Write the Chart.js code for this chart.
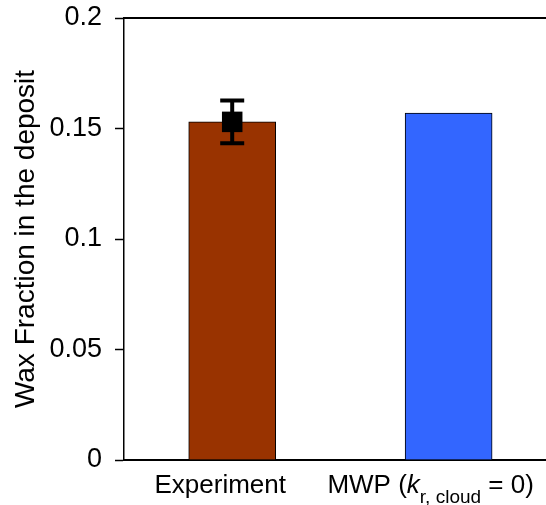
<!DOCTYPE html>
<html>
<head>
<meta charset="utf-8">
<script src="https://cdn.jsdelivr.net/npm/chart.js@4"></script>
<style>
  html, body { margin: 0; padding: 0; background: #fff; overflow: hidden; }
  #wrap { width: 546px; height: 505px; position: relative; }
</style>
</head>
<body>
<div id="wrap"><canvas id="chart"></canvas></div>
<script>
// bar data
const categories = ['Experiment', 'MWP (k r, cloud = 0)'];
const categoryPos = [1, 2];
const waxFraction = [0.153, 0.157];
const barColors = ['#993300', '#3366ff'];

// measured point with its error
const expMean = [0.153];
const expError = [0.0097];

const yTickValues = [0, 0.05, 0.1, 0.15, 0.2];
const yTickLabels = ['0', '0.05', '0.1', '0.15', '0.2'];

// label pieces, so the k and subscript can be styled
const labelParts = [
  [{ t: 'Experiment' }],
  [{ t: 'MWP (' }, { t: 'k', italic: true }, { t: 'r, cloud', sub: true }, { t: ' = 0)' }]
];
const labelShift = [-12, -18];

const FONT = '"Liberation Sans", Arial, Helvetica, sans-serif';

const errorBars = {
  id: 'errorBars',
  afterDatasetsDraw(chart) {
    const ctx = chart.ctx;
    const xs = chart.scales.x, ys = chart.scales.y;
    ctx.save();
    ctx.strokeStyle = '#000';
    ctx.lineWidth = 4;
    ctx.lineCap = 'butt';
    expMean.forEach((m, i) => {
      const px = xs.getPixelForValue(categoryPos[i]);
      const top = ys.getPixelForValue(m + expError[i]);
      const bot = ys.getPixelForValue(m - expError[i]);
      ctx.beginPath();
      ctx.moveTo(px, top); ctx.lineTo(px, bot);
      ctx.moveTo(px - 12, top); ctx.lineTo(px + 12, top);
      ctx.moveTo(px - 12, bot); ctx.lineTo(px + 12, bot);
      ctx.stroke();
    });
    ctx.restore();
  }
};

const frameAndLabels = {
  id: 'frameAndLabels',
  afterDraw(chart) {
    const ctx = chart.ctx;
    const area = chart.chartArea;
    const xs = chart.scales.x;
    ctx.save();
    // top frame line
    ctx.strokeStyle = '#000';
    ctx.lineWidth = 2;
    ctx.beginPath();
    ctx.moveTo(area.left, area.top);
    ctx.lineTo(chart.width, area.top);
    ctx.stroke();

    // category labels
    ctx.fillStyle = '#000';
    ctx.textBaseline = 'alphabetic';
    ctx.textAlign = 'left';
    const base = 493;
    labelParts.forEach((parts, i) => {
      const fontOf = p => p.sub ? '19px ' + FONT : (p.italic ? 'italic 26px ' : '26px ') + FONT;
      let total = 0;
      parts.forEach(p => { ctx.font = fontOf(p); total += ctx.measureText(p.t).width; });
      let x = xs.getPixelForValue(categoryPos[i]) + labelShift[i] - total / 2;
      parts.forEach(p => {
        ctx.font = fontOf(p);
        ctx.fillText(p.t, x, p.sub ? base + 10 : base);
        x += ctx.measureText(p.t).width;
      });
    });
    ctx.restore();
  }
};

new Chart(document.getElementById('chart'), {
  type: 'bar',
  data: {
    datasets: [
      {
        type: 'bar',
        data: categoryPos.map((x, i) => ({ x: x, y: waxFraction[i] })),
        backgroundColor: barColors,
        borderColor: '#000',
        borderWidth: 1,
        barThickness: 87,
        order: 2
      },
      {
        type: 'scatter',
        data: expMean.map((m, i) => ({ x: categoryPos[i], y: m })),
        pointStyle: 'rect',
        radius: 14.5,
        backgroundColor: '#000',
        borderColor: '#000',
        borderWidth: 0,
        order: 1
      }
    ]
  },
  options: {
    responsive: true,
    maintainAspectRatio: false,
    animation: false,
    layout: { autoPadding: false, padding: { top: 18, right: 0, bottom: 0, left: 0 } },
    plugins: {
      legend: { display: false },
      tooltip: { enabled: false }
    },
    scales: {
      x: {
        type: 'linear',
        offset: false,
        min: 0.5,
        max: 2.45,
        ticks: { display: false },
        grid: { display: false },
        border: { display: true, color: '#000', width: 2 },
        afterFit(scale) {
          scale.height = 45;
          scale.paddingLeft = 0;
          scale.paddingRight = 0;
        }
      },
      y: {
        min: 0,
        max: 0.2,
        afterBuildTicks(scale) { scale.ticks = yTickValues.map(v => ({ value: v })); },
        ticks: {
          padding: 13,
          color: '#000',
          font: { family: FONT, size: 27 },
          callback: (v) => yTickLabels[yTickValues.indexOf(v)]
        },
        grid: { drawOnChartArea: false, tickLength: 9, tickWidth: 1.5, tickColor: '#000' },
        border: { display: true, color: '#000', width: 1.5 },
        title: {
          display: true,
          text: 'Wax Fraction in the deposit',
          color: '#000',
          font: { family: FONT, size: 28 },
          padding: { top: 9, bottom: 0 }
        },
        afterFit(scale) {
          scale.width = 124;
          scale.paddingTop = 0;
          scale.paddingBottom = 0;
        }
      }
    }
  },
  plugins: [errorBars, frameAndLabels]
});
</script>
</body>
</html>
